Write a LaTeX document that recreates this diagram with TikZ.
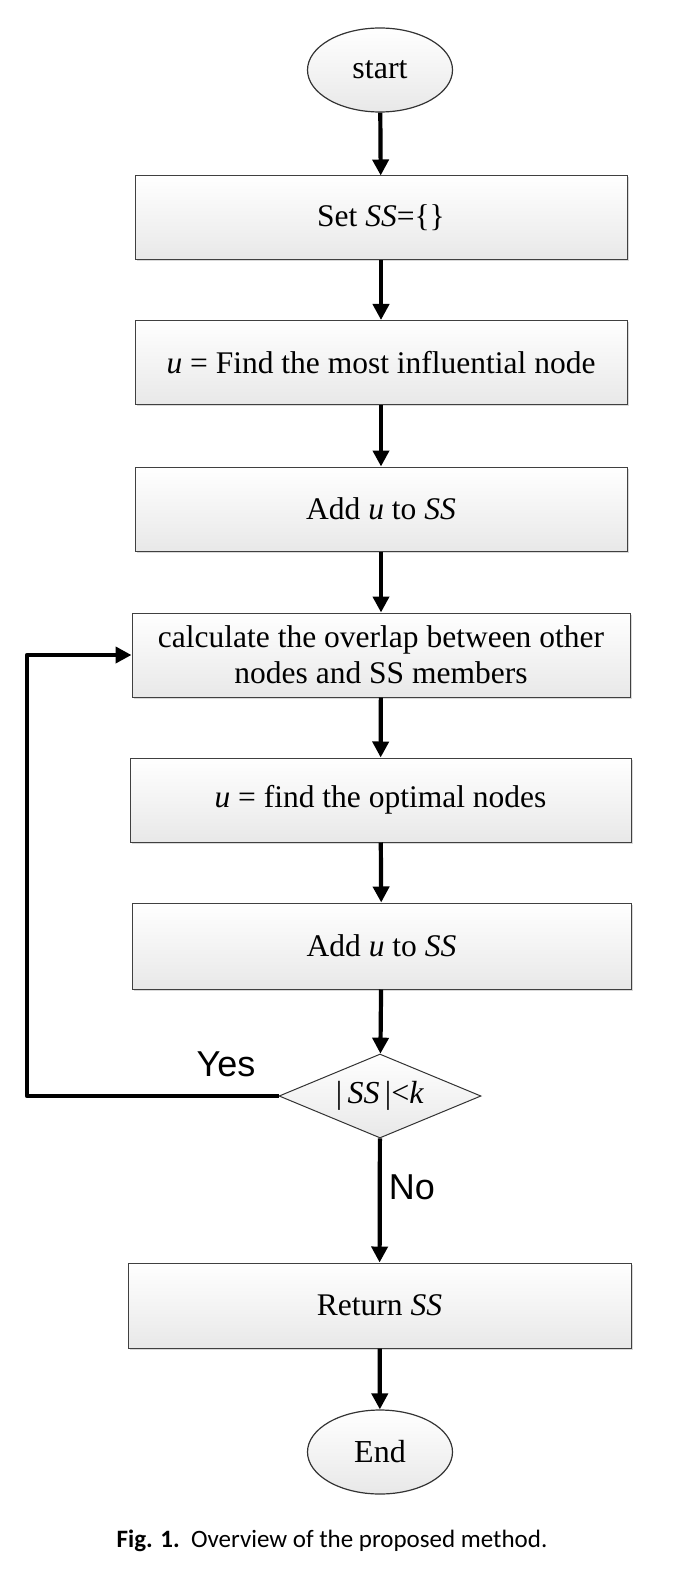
\documentclass[tikz,border=0pt]{standalone}
\usepackage{fontspec}
\setmainfont{Liberation Serif}
\newfontfamily\capfont{Carlito}
\newfontfamily\lblfont{Liberation Sans}
\usetikzlibrary{shapes.geometric,arrows.meta,shadows}
\begin{document}
\begin{tikzpicture}[x=1pt,y=-1pt,
  boxstyle/.style={draw=black!75, line width=1pt, rectangle, minimum height=84pt, inner sep=0pt,
     top color=white, bottom color=black!9, align=center,
     font=\fontsize{31.5}{36}\selectfont,
     drop shadow={opacity=0.3, shadow xshift=1.5pt, shadow yshift=-1.5pt}},
  ovalstyle/.style={draw=black!80, line width=1.2pt, ellipse, minimum width=145pt, minimum height=84pt, inner sep=0pt,
     top color=white, bottom color=black!9, font=\fontsize{32}{36}\selectfont},
  decstyle/.style={draw=black!80, line width=1pt, diamond, minimum width=202pt, minimum height=84pt, inner sep=0pt,
     aspect=2.4, top color=white, bottom color=black!9, font=\fontsize{32}{36}\selectfont},
  arr/.style={line width=4.2pt, -{Triangle[length=16pt,width=16pt]}},
  lbl/.style={font=\lblfont\fontsize{36}{40}\selectfont, inner sep=0pt}
]
\useasboundingbox (0,0) rectangle (677,1578);
\node[ovalstyle] (start) at (380,70) {start};
\node[boxstyle, minimum width=492pt] (b1) at (381,218) {Set \textit{SS}=\{\}};
\node[boxstyle, minimum width=492pt] (b2) at (381,362.5) {\textit{u} = Find the most influential node};
\node[boxstyle, minimum width=492pt] (b3) at (381,509) {Add \textit{u} to \textit{SS}};
\node[boxstyle, minimum width=498pt] (b4) at (381,655) {calculate the overlap between other\\ nodes and SS members};
\node[boxstyle, minimum width=501pt] (b5) at (380.5,800) {\textit{u} = find the optimal nodes};
\node[boxstyle, minimum width=499pt, minimum height=86pt] (b6) at (381.5,946) {Add \textit{u} to \textit{SS}};
\node[decstyle] (d) at (380,1096) {|\,\textit{SS}\,|<\textit{k}};
\node[boxstyle, minimum width=503pt, minimum height=85pt] (b7) at (379.5,1305.5) {Return \textit{SS}};
\node[ovalstyle] (end) at (380,1452) {End};
\coordinate (lp) at (27,1096);
\draw[arr] (start) -- (b1);
\draw[arr] (b1) -- (b2);
\draw[arr] (b2) -- (b3);
\draw[arr] (b3) -- (b4);
\draw[arr] (b4) -- (b5);
\draw[arr] (b5) -- (b6);
\draw[arr] (b6) -- (d);
\draw[arr] (d) -- (b7);
\draw[arr] (b7) -- (end);
\draw[arr, line cap=butt, line join=round] (d.west) -- (lp) |- (b4.west);
\node[lbl] (yes) at (226,1064) {Yes};
\node[lbl] (no) at (412,1187) {No};
\node[font=\capfont\fontsize{25}{29}\selectfont, inner sep=0pt] (cap) at (332,1541) {\textbf{Fig. 1.}\ \ Overview of the proposed method.};
\end{tikzpicture}
\end{document}
